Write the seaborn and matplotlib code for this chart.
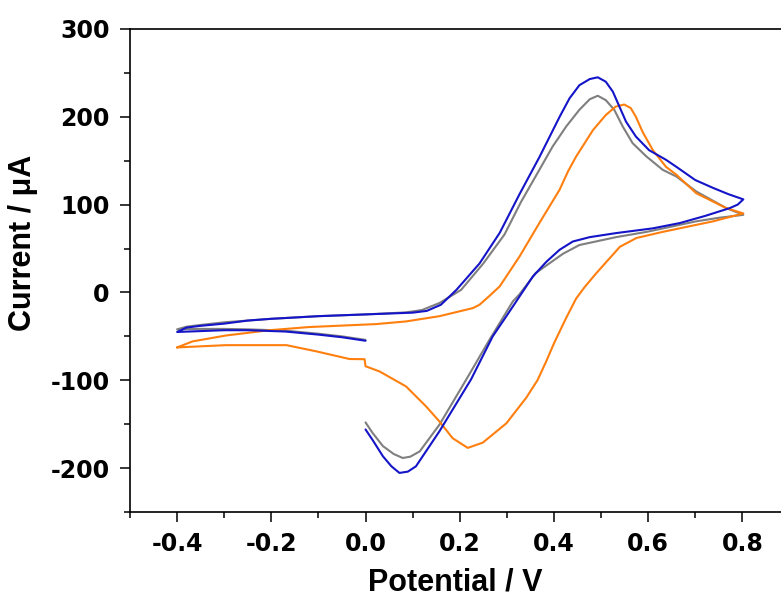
import numpy as np
import pandas as pd
import matplotlib
matplotlib.use("Agg")
import matplotlib.pyplot as plt
from matplotlib.ticker import MultipleLocator
import seaborn as sns

# ---- data (potential in V, current in uA), in scan order ----
blue_v = [0.0, -0.05, -0.1, -0.17, -0.25, -0.3, -0.35, -0.4,
          -0.38, -0.35, -0.3, -0.25, -0.2, -0.1, 0.0, 0.1, 0.13, 0.16, 0.193, 0.242,
          0.285, 0.327, 0.369, 0.391, 0.412, 0.433, 0.454, 0.476, 0.493, 0.510, 0.525,
          0.539, 0.553, 0.574, 0.602, 0.638, 0.660, 0.70, 0.738, 0.77, 0.802,
          0.79, 0.773, 0.72, 0.667, 0.61, 0.532, 0.476, 0.44, 0.412, 0.384, 0.355,
          0.327, 0.299, 0.27, 0.224, 0.157, 0.107, 0.09, 0.072, 0.055, 0.037, 0.015, 0.0]
blue_i = [-55, -51, -48, -44.5, -43, -43, -44, -45,
          -40, -38, -35.5, -32, -30, -27, -25, -23, -21, -14, 3, 33,
          68, 112, 154, 177.5, 200, 221, 236, 243, 245, 240, 228.7,
          211.6, 194.5, 177.5, 162, 151, 143, 128, 119, 112, 106,
          100, 96, 87, 79, 73, 67.6, 63, 58, 48.6, 35, 18,
          -4.5, -27, -50, -99, -158, -198, -204, -205.5, -198, -186.6, -168, -156]

gray_v = [0.0, -0.05, -0.1, -0.17, -0.25, -0.3, -0.35, -0.4,
          -0.38, -0.35, -0.3, -0.2, -0.1, 0.0, 0.086, 0.12, 0.157, 0.203, 0.25,
          0.295, 0.33, 0.369, 0.397, 0.426, 0.454, 0.476, 0.493, 0.510, 0.528, 0.546,
          0.567, 0.596, 0.631, 0.660, 0.702, 0.766, 0.802,
          0.75, 0.702, 0.597, 0.532, 0.454, 0.419, 0.39, 0.361, 0.327, 0.313, 0.263,
          0.214, 0.157, 0.115, 0.095, 0.079, 0.06, 0.037, 0.015, 0.0]
gray_i = [-54, -50, -47, -43.5, -42, -41.5, -41.5, -42,
          -39, -37, -34, -30, -27, -25, -22.7, -20, -12, 3, 33,
          66, 103, 139.6, 166, 189, 208, 220, 224, 219, 208, 189,
          170, 155, 139.6, 132, 115, 96, 88.4,
          85, 81, 69, 63, 54, 44, 33, 22, -2, -10, -54,
          -99, -150.5, -181, -187, -188.5, -184, -175, -160, -148]

orange_v = [-0.4, -0.367, -0.296, -0.204, -0.12, 0.023, 0.086, 0.157, 0.228, 0.242,
            0.263, 0.285, 0.327, 0.369, 0.412, 0.43, 0.447, 0.483, 0.510, 0.531,
            0.549, 0.563, 0.574, 0.588, 0.610, 0.638, 0.660, 0.702, 0.766, 0.802,
            0.738, 0.631, 0.575, 0.54, 0.525, 0.49, 0.465, 0.447, 0.425, 0.40, 0.384,
            0.365, 0.341, 0.299, 0.249, 0.217, 0.185, 0.157, 0.129, 0.086, 0.03, 0.0,
            -0.002, -0.034, -0.105, -0.168, -0.296, -0.4]
orange_i = [-62.6, -55.7, -49, -43, -39.4, -36, -33, -27, -17.8, -14,
            -4, 7, 41, 79, 117, 138, 154.7, 185, 202, 211.6,
            214, 210, 200, 183, 162, 143, 134, 113, 96, 90,
            81, 69, 62, 52, 43, 22, 6, -7, -30, -58, -78,
            -100, -120, -149, -171, -177, -166, -147, -130, -107, -90, -84,
            -76, -75.8, -67, -60, -60, -62.6]

series_names = ["Blue", "Gray", "Orange"]
series_colors = ["#1414c8", "#7f7f7f", "#ff7f0e"]

x_ticks = [-0.4, -0.2, 0.0, 0.2, 0.4, 0.6, 0.8]
y_ticks = [-200, -100, 0, 100, 200, 300]

frames = []
for name, v, i in [("Gray", gray_v, gray_i), ("Orange", orange_v, orange_i),
                   ("Blue", blue_v, blue_i)]:
    frames.append(pd.DataFrame({"Potential": v, "Current": i, "Series": name}))
df = pd.concat(frames, ignore_index=True)

sns.set_theme(style="ticks")
plt.rcParams["font.family"] = ["Liberation Sans", "DejaVu Sans"]
plt.rcParams["font.weight"] = "bold"

fig = plt.figure(figsize=(7.81, 6.03), dpi=100)
ax = fig.add_axes([130 / 781, 91 / 603, 651 / 781, 483 / 603])

palette = dict(zip(series_names, series_colors))
sns.lineplot(data=df, x="Potential", y="Current", hue="Series", palette=palette,
             sort=False, estimator=None, legend=False, linewidth=1.5, ax=ax)

ax.set_xlim(-0.5, 0.882)
ax.set_ylim(-250, 300)
ax.set_xticks(x_ticks)
ax.set_xticklabels([f"{t:.1f}" for t in x_ticks])
ax.set_yticks(y_ticks)
ax.set_yticklabels([str(t) for t in y_ticks])
ax.xaxis.set_minor_locator(MultipleLocator(0.1))
ax.yaxis.set_minor_locator(MultipleLocator(50))

for s in ["left", "bottom", "top"]:
    ax.spines[s].set_linewidth(1.2)
    ax.spines[s].set_color("black")
ax.spines["right"].set_visible(False)

ax.tick_params(axis="both", which="major", direction="out", length=7.5, width=1.1,
               pad=7, colors="black")
ax.tick_params(axis="both", which="minor", direction="out", length=4.5, width=1.1,
               colors="black")
ax.tick_params(top=False, right=False, which="both")
for lab in ax.get_xticklabels() + ax.get_yticklabels():
    lab.set_fontweight("bold")
    lab.set_family(["DejaVu Sans"])
    lab.set_fontsize(17)
    lab.set_color("black")

ax.set_xlabel("Potential / V", fontsize=22, fontweight="bold", labelpad=8, color="black")
ax.set_ylabel("Current / μA", fontsize=22, fontweight="bold", color="black")
ax.yaxis.set_label_coords(-0.142, 0.557)

fig.savefig("out.png", dpi=100)
